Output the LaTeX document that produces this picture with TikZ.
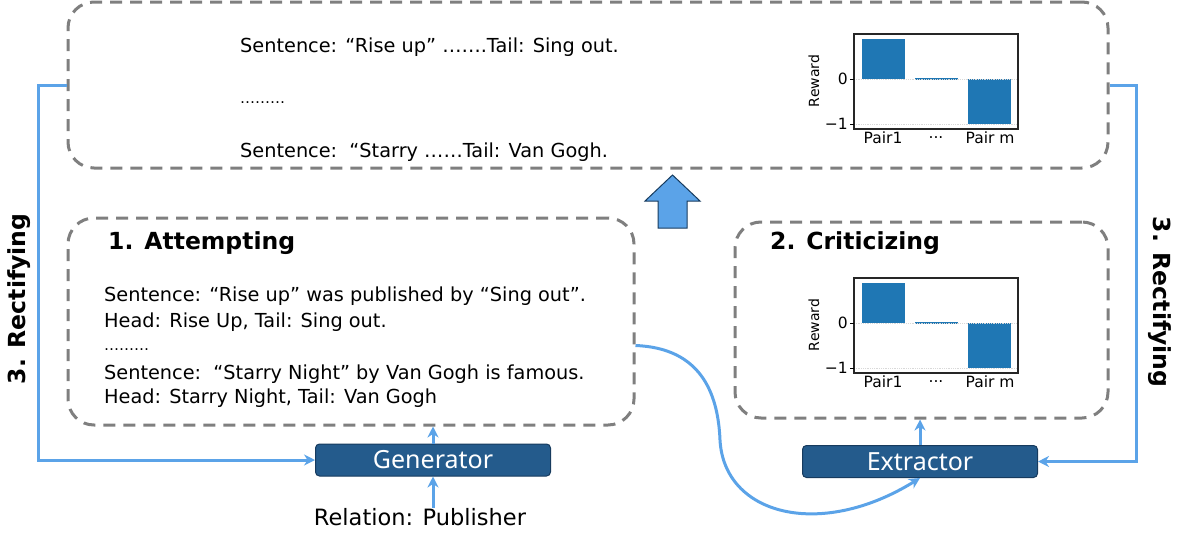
\documentclass[tikz,border=0pt]{standalone}
\usepackage{fontspec}
\setmainfont{DejaVu Sans}
\newfontfamily\chartfont{DejaVu Sans}
\newfontfamily\modelfont{Noto Sans}
\usetikzlibrary{arrows.meta}

\definecolor{flowblue}{HTML}{5BA3E8}
\definecolor{modelblue}{HTML}{245B8C}
\definecolor{modeledge}{HTML}{173B5E}
\definecolor{barblue}{HTML}{1F77B4}
\definecolor{dashgray}{HTML}{7F7F7F}

\tikzset{
	stagebox/.style={draw=dashgray, line width=3pt, dash pattern=on 12pt off 8pt,
		rounded corners=26pt, inner sep=0pt},
	modelbox/.style={draw=modeledge, fill=modelblue, line width=1pt, rounded corners=4pt,
		text=white, font=\modelfont\fontsize{25}{27}\selectfont,
		minimum width=235pt, minimum height=32pt, inner sep=0pt},
	flow/.style={draw=flowblue, line width=3pt, -{Stealth[length=11pt,width=11pt]}},
	sample/.style={anchor=west, inner sep=0pt, font=\fontsize{19.3}{21}\selectfont},
	stagetitle/.style={anchor=west, inner sep=0pt, font=\bfseries\fontsize{23.5}{26}\selectfont},
	chartlabel/.style={inner sep=0pt, font=\chartfont\fontsize{15.5}{17}\selectfont},
	rewardchart/.pic={
		\fill[barblue] (8,5) rectangle (51,45);
		\fill[barblue] (61,44.3) rectangle (104,45.7);
		\fill[barblue] (114,45) rectangle (157,90);
		\draw[black!15, densely dotted, line width=0.8pt] (0,45) -- (164,45) (0,90) -- (164,90);
		\draw[line width=1.2pt, black!85] (0,0) rectangle (164,95);
		\draw[line width=1pt] (0,45) -- (-4,45) (0,90) -- (-4,90);
		\node[chartlabel, anchor=east] (-zero) at (-6,45) {0};
		\node[chartlabel, anchor=east] (-minus) at (-6,90) {−1};
		\node[chartlabel, rotate=90, font=\chartfont\fontsize{14}{15}\selectfont] (-ylabel) at (-40,47) {Reward};
		\node[chartlabel] (-first) at (29,104) {Pair1};
		\node[chartlabel] (-dots) at (82,104) {...};
		\node[chartlabel] (-last) at (136,104) {Pair m};
	}
}

\begin{document}
\begin{tikzpicture}[x=1pt, y=-1pt]
	\useasboundingbox (0,0) rectangle (1180,533);

	% stages
	\node[stagebox, minimum width=1040pt, minimum height=166pt] (result) at (588,85) {};
	\node[stagebox, minimum width=566pt, minimum height=207pt] (attempt) at (351,321.5) {};
	\node[stagebox, minimum width=373pt, minimum height=196pt] (critic) at (921.5,320) {};

	% rectified samples
	\node[sample] (toprise) at (240,47) {Sentence: “Rise up” …….Tail: Sing out.};
	\node[sample, font=\fontsize{15}{17}\selectfont] (topdots) at (240,103) {………};
	\node[sample] (topstarry) at (240,152) {Sentence:\ \ “Starry ……Tail: Van Gogh.};
	\pic (topchart) at (854,34) {rewardchart};

	% attempting
	\node[stagetitle] (attempttitle) at (108,243) {1. Attempting};
	\node[sample] (riseline) at (104,296) {Sentence: “Rise up” was published by “Sing out”.};
	\node[sample] (risehead) at (104,322) {Head: Rise Up, Tail: Sing out.};
	\node[sample, font=\fontsize{15}{17}\selectfont] (midots) at (104,350) {………};
	\node[sample] (starryline) at (104,374) {Sentence:\ \ “Starry Night” by Van Gogh is famous.};
	\node[sample] (starryhead) at (104,398) {Head: Starry Night, Tail: Van Gogh};

	% criticizing
	\node[stagetitle] (critictitle) at (770,243) {2. Criticizing};
	\pic (criticchart) at (854,278) {rewardchart};

	% models
	\node[modelbox] (gen) at (433,460) {Generator};
	\node[modelbox] (extr) at (920,461.5) {Extractor};
	\node[inner sep=0pt, font=\fontsize{22.5}{24}\selectfont] (rel) at (420,517) {Relation: Publisher};

	\node[rotate=90, font=\bfseries\fontsize{23.5}{26}\selectfont] (rectleft) at (19,299) {3. Rectifying};
	\node[rotate=-90, font=\bfseries\fontsize{23.5}{26}\selectfont] (rectright) at (1160,302) {3. Rectifying};

	% block arrow up
	\draw[fill=flowblue, draw=modeledge, line width=1pt]
		(645,201) -- (672.5,175) -- (700,201) -- (687,201) -- (687,228) -- (658,228) -- (658,201) -- cycle;

	\draw[flow] (gen.south |- rel.north) -- (gen.south);
	\draw[flow] (gen.north) -- (gen.north |- attempt.south);
	\draw[flow] (extr.north) -- (extr.north |- critic.south);
	\draw[flow] (result.west) -- ++(-28,0) |- (gen.west);
	\draw[flow] (result.east) -- ++(27,0) |- (extr.east);
	\draw[flow] ([yshift=-24pt]attempt.east) .. controls (700,348) and (718,392) .. (720,440)
		.. controls (724,515) and (820,540) .. (extr.south);
\end{tikzpicture}
\end{document}
